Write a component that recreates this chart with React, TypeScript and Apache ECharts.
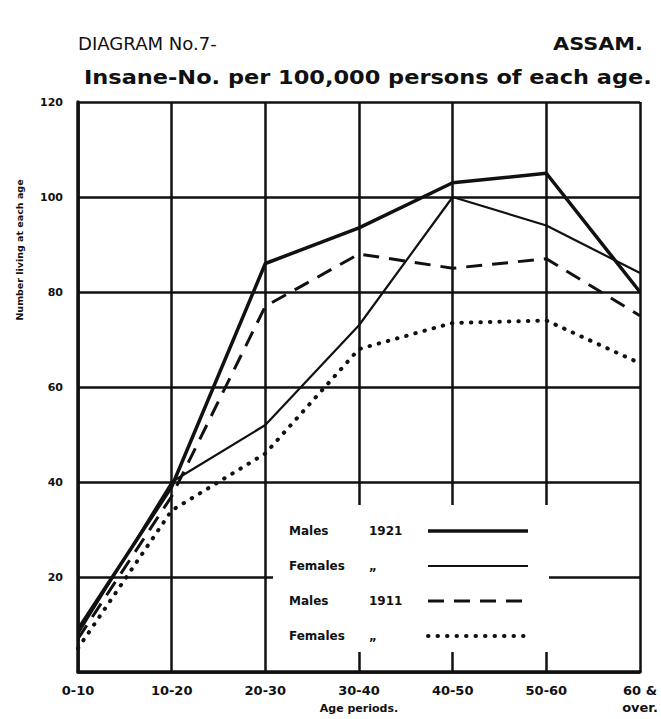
import React, { useEffect, useRef } from "react";
import * as echarts from "echarts";

const categories = ["0-10", "10-20", "20-30", "30-40", "40-50", "50-60", "60 &\nover."];
const males1921 = [9, 39, 86, 93.5, 103, 105, 80];
const females1921 = [8, 40, 52, 73, 100, 94, 84];
const males1911 = [7, 37, 77, 88, 85, 87, 75];
const females1911 = [5, 34, 46, 68, 73.5, 74, 65];
const seriesNames = ["Males 1921", "Females 1921", "Males 1911", "Females 1911"];
const legendLabels: Record<string, [string, string]> = {
  "Males 1921": ["Males", "1921"],
  "Females 1921": ["Females", "„"],
  "Males 1911": ["Males", "1911"],
  "Females 1911": ["Females", "„"],
};

const FONT = "DejaVu Sans";
const INK = "#111";

function fitScale(text: string, font: string, target: number): number {
  try {
    const ctx = document.createElement("canvas").getContext("2d");
    if (!ctx) return 1;
    ctx.font = font;
    const w = ctx.measureText(text).width;
    return w > 0 ? target / w : 1;
  } catch (e) {
    return 1;
  }
}

export default function App() {
  const ref = useRef<HTMLDivElement>(null);
  useEffect(() => {
    if (!ref.current) return;
    const chart = echarts.init(ref.current, null, { renderer: "svg" });
    const mk = (name: string, data: number[], lineStyle: any) => ({
      name,
      type: "line",
      data,
      symbol: "circle",
      showSymbol: false,
      lineStyle: { color: INK, ...lineStyle },
      itemStyle: { color: INK },
      z: 3,
    });
    const t1 = "DIAGRAM No.7-";
    const t2 = "ASSAM.";
    const t3 = "Insane-No. per 100,000 persons of each age.";
    const s1 = fitScale(t1, `normal 18px "${FONT}"`, 139);
    const s2 = fitScale(t2, `bold 18px "${FONT}"`, 90);
    const s3 = fitScale(t3, `bold 20px "${FONT}"`, 568);
    chart.setOption({
      animation: false,
      backgroundColor: "#fff",
      grid: { left: 78, right: 21, top: 102, bottom: 47, outerBoundsMode: "none", containLabel: false },
      xAxis: {
        type: "category",
        data: categories,
        boundaryGap: false,
        axisLine: { lineStyle: { color: INK, width: 3.5 } },
        axisTick: { show: false },
        splitLine: { show: true, lineStyle: { color: INK, width: 2.5 } },
        axisLabel: {
          color: INK,
          fontFamily: FONT,
          fontWeight: "bold",
          fontSize: 13,
          margin: 10,
          lineHeight: 17,
        },
        name: "Age periods.",
        nameLocation: "middle",
        nameGap: 31,
        nameMoveOverlap: false,
        nameTextStyle: { color: INK, fontFamily: FONT, fontWeight: "bold", fontSize: 11 },
      },
      yAxis: {
        type: "value",
        min: 0,
        max: 120,
        interval: 20,
        axisLine: { show: true, lineStyle: { color: INK, width: 3.5 } },
        axisTick: { show: false },
        splitLine: { show: true, lineStyle: { color: INK, width: 2.5 } },
        axisLabel: {
          color: INK,
          fontFamily: FONT,
          fontWeight: "bold",
          fontSize: 11,
          margin: 15,
          formatter: (v: number) => (v === 0 ? "" : String(v)),
        },
      },
      legend: {
        orient: "vertical",
        align: "right",
        left: 273,
        top: 505,
        padding: [18, 19, 8, 16],
        itemGap: 19,
        itemWidth: 100,
        itemHeight: 14,
        backgroundColor: "#fff",
        data: seriesNames,
        lineStyle: { width: "inherit" },
        itemStyle: { opacity: 0, borderWidth: 0 },
        formatter: (name: string) => {
          const [a, b] = legendLabels[name];
          return `{a|${a}}{b|${b}}`;
        },
        textStyle: {
          color: INK,
          fontFamily: FONT,
          fontWeight: "bold",
          fontSize: 12,
          lineHeight: 16,
          rich: {
            a: { width: 80, align: "left", lineHeight: 16, fontFamily: FONT, fontWeight: "bold", fontSize: 12, color: INK },
            b: { width: 54, align: "left", lineHeight: 16, fontFamily: FONT, fontWeight: "bold", fontSize: 12, color: INK },
          },
        },
      },
      graphic: [
        {
          type: "text",
          x: 78,
          y: 35,
          scaleX: s1,
          style: { text: t1, fontFamily: FONT, fontSize: 18, fontWeight: "normal", fill: INK, align: "left", verticalAlign: "top" },
        },
        {
          type: "text",
          x: 643,
          y: 35,
          scaleX: s2,
          style: { text: t2, fontFamily: FONT, fontSize: 18, fontWeight: "bold", fill: INK, align: "right", verticalAlign: "top" },
        },
        {
          type: "text",
          x: 84,
          y: 67,
          scaleX: s3,
          style: { text: t3, fontFamily: FONT, fontSize: 20, fontWeight: "bold", fill: INK, align: "left", verticalAlign: "top" },
        },
        {
          type: "text",
          x: 19,
          y: 250,
          rotation: Math.PI / 2,
          style: {
            text: "Number living at each age",
            fontFamily: FONT,
            fontWeight: "bold",
            fontSize: 9.5,
            fill: INK,
            align: "center",
            verticalAlign: "middle",
          },
        },
      ],
      series: [
        mk(seriesNames[0], males1921, { width: 3.5 }),
        mk(seriesNames[1], females1921, { width: 2.2 }),
        mk(seriesNames[2], males1911, { width: 3, type: [16, 10] }),
        mk(seriesNames[3], females1911, { width: 4, type: [0.5, 9], cap: "round" }),
      ],
    });
    return () => chart.dispose();
  }, []);
  return (
    <div
      ref={ref}
      style={{ position: "fixed", left: 0, top: 0, width: 661, height: 719, background: "#fff" }}
    />
  );
}
